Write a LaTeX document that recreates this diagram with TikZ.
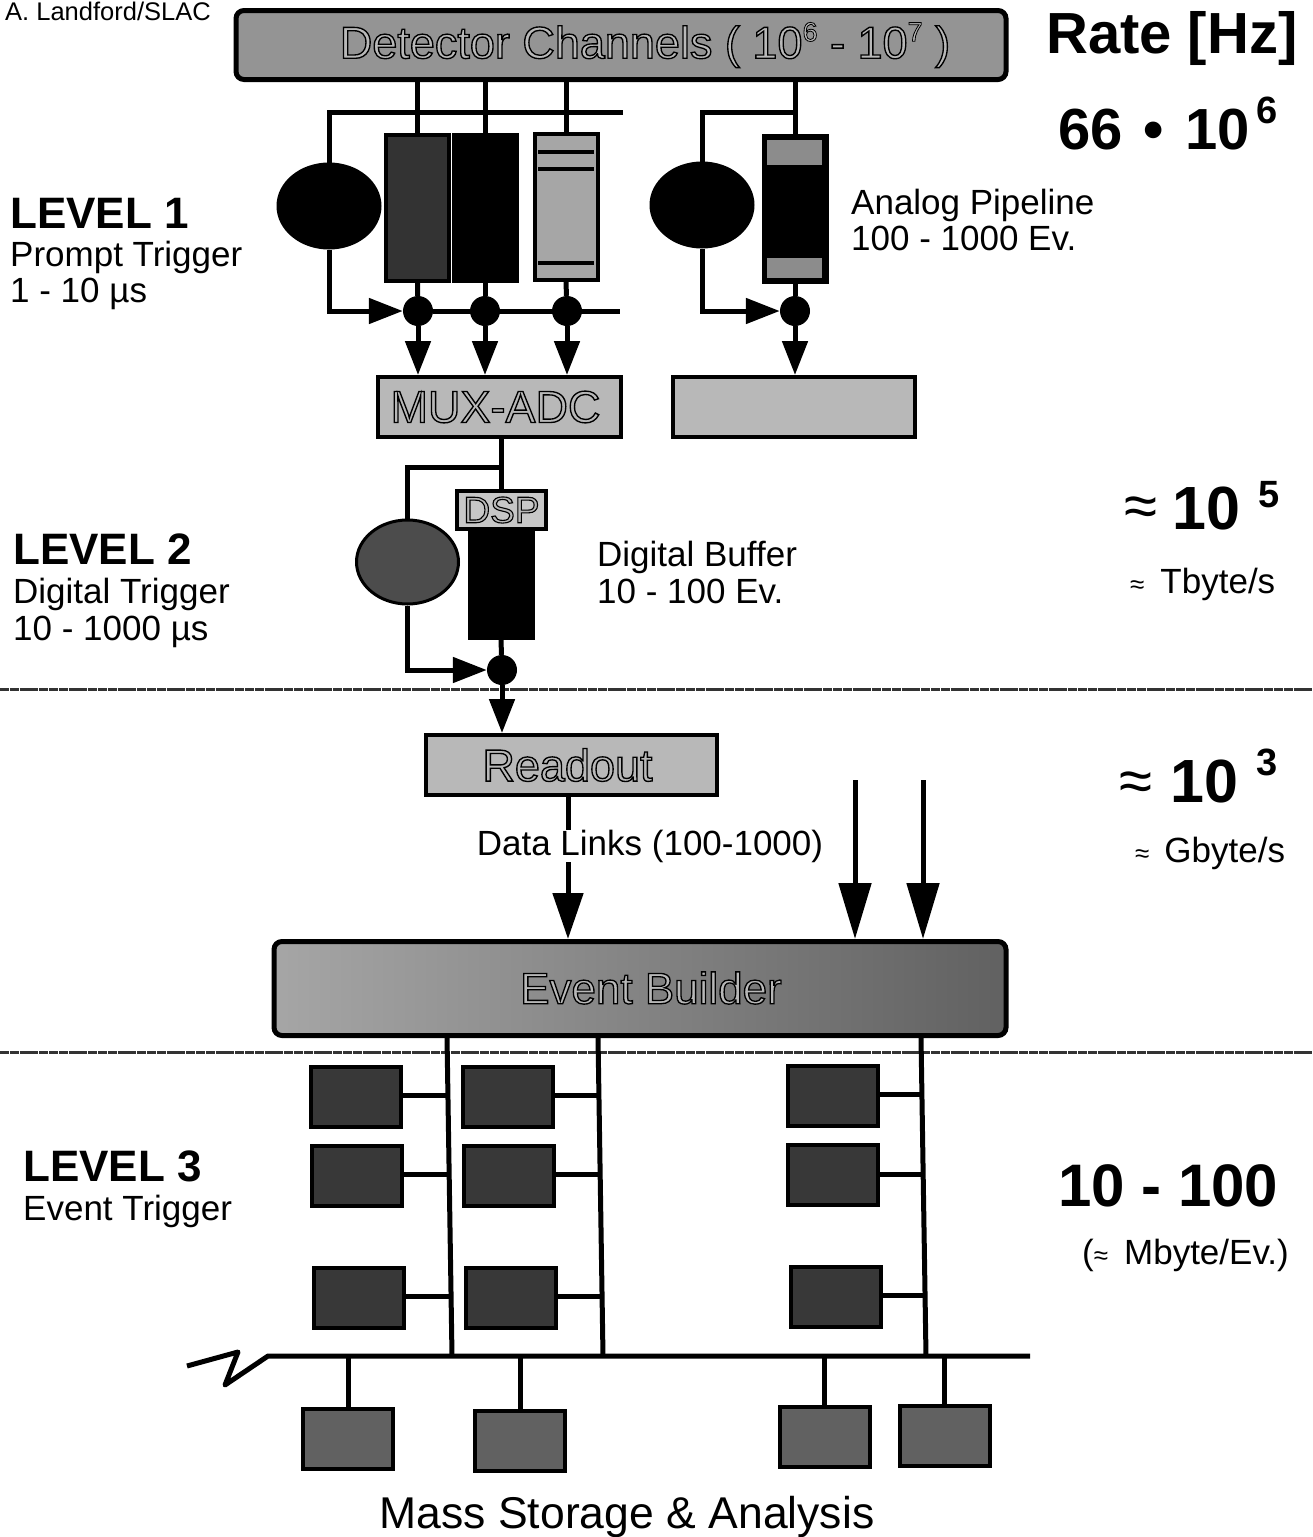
\documentclass[tikz,border=0pt]{standalone}
\usepackage{fontspec}
\setmainfont{Liberation Sans}
\newfontface\hollowfont[FakeBold=3]{Liberation Sans}
\usetikzlibrary{arrows.meta,shapes.geometric}
\newcommand{\hollow}[1]{\special{pdf:bcolor [0.72] [0]}\hollowfont #1\special{pdf:ecolor}}
\newcommand{\sized}[1]{\fontsize{#1}{#1}\selectfont}
\tikzset{
  link/.style={line width=5pt},
  tiplink/.style={link, -{Triangle[width=25pt,length=34pt]}},
  bigtip/.style={link, -{Triangle[width=32pt,length=56pt]}},
  roundbox/.style={draw, line width=5pt, rounded corners=8pt, inner sep=0pt},
  greybox/.style={draw, line width=4pt, fill=black!28, inner sep=0pt, minimum height=60pt},
  pipebox/.style={draw, line width=4pt, fill=black, inner sep=0pt, minimum width=63pt},
  cpubox/.style={draw, line width=4pt, fill=black!78, inner sep=0pt, minimum width=90pt, minimum height=60pt},
  storebox/.style={draw, line width=4pt, fill=black!62, inner sep=0pt, minimum width=90pt, minimum height=60pt},
  trigger/.style={ellipse, draw, line width=3pt, fill=black, minimum width=102pt, minimum height=84pt, inner sep=0pt},
  hub/.style={circle, fill=black, minimum size=30pt, inner sep=0pt},
  cut/.style={line width=3pt, black!80, dash pattern=on 9pt off 0.8pt},
  plain/.style={anchor=west, inner sep=0pt, yshift=-3pt, font=\sized{35}},
  level/.style={anchor=west, inner sep=0pt, font=\sized{44}\bfseries},
  rate/.style={anchor=west, inner sep=0pt, font=\sized{58}\bfseries},
  number/.style={anchor=west, inner sep=0pt, font=\sized{61}\bfseries},
  power/.style={anchor=west, inner sep=0pt, font=\sized{38}\bfseries},
  approx/.style={anchor=west, inner sep=0pt, font=\sized{60}},
}
\begin{document}
\begin{tikzpicture}[x=1pt,y=-1pt]
\useasboundingbox (0,0) rectangle (1313,1537);
% top of the chain
\node[inner sep=0pt, anchor=west, font=\sized{25.5}] (credit) at (5,11) {A. Landford/SLAC};
\node[roundbox, fill=black!42, minimum width=770pt, minimum height=69pt] (det) at (621,45)
{\sized{45}\hspace*{48pt}\hollow{Detector Channels ( 10\raisebox{.38em}{\sized{27}\hollowfont 6} - 10\raisebox{.38em}{\sized{27}\hollowfont 7} )}};
\node[rate] (ratehead) at (1046,39) {Rate [Hz]};
\node[rate] (rateone) at (1058,130) {66 \kern5pt•\kern5pt\ 10};
\node[power] (rateonep) at (1256,110) {6};
% level 1
\node[level] (levelone) at (10,213) {LEVEL 1};
\node[plain] (prompt) at (10,254) {Prompt Trigger};
\node[plain] (prompttime) at (10,291) {1 - 10 µs};
\node[trigger] (trigA) at (329,206) {};
\node[trigger] (trigB) at (702,205) {};
\node[pipebox, minimum height=146pt, fill=black!80] (pipeA) at (417.5,208) {};
\node[pipebox, minimum height=146pt] (pipeB) at (485,208) {};
\node[pipebox, minimum height=146pt, fill=black!35] (pipeC) at (566,207) {};
\node[pipebox, minimum height=146pt] (pipeD) at (795,209) {};
\fill[black!45] (767,140) rectangle (822,165);
\fill[black!45] (767,258) rectangle (822,278);
\fill (538,150) rectangle (594,154);
\fill (538,167) rectangle (594,171);
\fill (538,261) rectangle (594,265);
\node[hub] (hubA) at (418,311) {};
\node[hub] (hubB) at (485,311) {};
\node[hub] (hubC) at (567,311) {};
\node[hub] (hubD) at (795,311) {};
\node[greybox, minimum width=243pt] (mux) at (499.5,407) {\sized{45}\hspace*{-8pt}\hollow{MUX-ADC}};
\node[greybox, minimum width=242pt] (blank) at (794,407) {};
\node[plain] (analog) at (851,202) {Analog Pipeline};
\node[plain] (analogev) at (851,235) {100 - 1000 Ev.};
\coordinate (upA) at (623,112);
\coordinate (lowA) at (620,311);
\draw[link] (trigA.north) |- (upA);
\draw[link] (pipeA.north |- det.south) -- (pipeA.north);
\draw[link] (pipeB.north |- det.south) -- (pipeB.north);
\draw[link] (pipeC.north |- det.south) -- (pipeC.north);
\draw[link] (pipeD.north |- det.south) -- (pipeD.north);
\draw[link] (trigB.north) |- (pipeD.north |- upA);
\draw[link] (pipeA.south) -- (hubA);
\draw[link] (pipeB.south) -- (hubB);
\draw[link] (pipeC.south) -- (hubC);
\draw[link] (pipeD.south) -- (hubD);
\draw[tiplink] (trigA.south) |- (hubA);
\draw[tiplink] (trigB.south) |- (hubD);
\draw[link] (hubA) -- (lowA);
\draw[tiplink] (hubA) -- (hubA |- mux.north);
\draw[tiplink] (hubB) -- (hubB |- mux.north);
\draw[tiplink] (hubC) -- (hubC |- mux.north);
\draw[tiplink] (hubD) -- (hubD |- blank.north);
% level 2
\node[level] (leveltwo) at (13,549) {LEVEL 2};
\node[plain] (digital) at (13,591) {Digital Trigger};
\node[plain] (digitaltime) at (13,629) {10 - 1000 µs};
\node[trigger, fill=black!70] (trigC) at (407.5,562) {};
\node[pipebox, minimum height=108pt] (pipeE) at (501,584) {};
\node[draw, line width=4pt, fill=black!22, inner sep=0pt, minimum width=89pt, minimum height=38pt] (dsp) at (501.5,510) {\sized{37}\hollow{DSP}};
\node[hub] (hubE) at (502,670) {};
\node[plain] (buffer) at (597,554) {Digital Buffer};
\node[plain] (bufferev) at (597,588) {10 - 100 Ev.};
\node[approx] (aprxtwo) at (1124,512) {≈};
\node[number] (ratetwo) at (1172,508) {10};
\node[power] (ratetwop) at (1258,495) {5};
\node[plain] (tbyte) at (1130,581) {\sized{26}≈\kern16pt\sized{35}Tbyte/s};
\draw[link] (mux.south -| dsp.north) -- (dsp.north);
\draw[link] (trigC.north) |- (dsp.north |- 0,467);
\draw[link] (pipeE.south) -- (hubE);
\draw[tiplink] (trigC.south) |- (hubE);
\draw[cut] (0,689) coordinate (cutA) -- (1313,689) coordinate (cutB);
% readout and event builder
\node[greybox, minimum width=291pt] (readout) at (571,765) {\sized{45}\hspace*{-7pt}\hollow{Readout}};
\node[roundbox, left color=black!35, right color=black!62, minimum width=732pt, minimum height=94pt] (builder) at (640,988.5) {};
\node[inner sep=0pt, font=\sized{44}] (buildertext) at (651,988) {\hollow{Event Builder}};
\coordinate (freeA) at (855,780);
\coordinate (freeB) at (923,780);
\draw[tiplink] (hubE) -- (hubE |- readout.north);
\draw[link, -{Triangle[width=30pt,length=46pt]}] (568,795) coordinate (dataA) -- (dataA |- builder.north);
\node[inner sep=0pt, fill=white, font=\sized{35}] (datalinks) at (650,846) {Data Links (100-1000)};
\draw[bigtip] (freeA) -- (freeA |- builder.north);
\draw[bigtip] (freeB) -- (freeB |- builder.north);
\node[approx] (aprxthree) at (1119,787) {≈};
\node[number] (ratethree) at (1170,781) {10};
\node[power] (ratethreep) at (1256,762) {3};
\node[plain] (gbyte) at (1135,850) {\sized{26}≈\kern15pt\sized{35}Gbyte/s};
\draw[cut] (0,1052) coordinate (cutC) -- (1313,1052) coordinate (cutD);
% level 3
\node[level] (levelthree) at (23,1166) {LEVEL 3};
\node[plain] (eventtrig) at (23,1208) {Event Trigger};
\node[number, font=\sized{60}\bfseries] (ratefour) at (1058,1186) {10 - 100};
\node[plain] (mbyte) at (1082,1252) {(\sized{26}≈\kern16pt\sized{35}Mbyte/Ev.)};
\node[cpubox] (cpuA) at (356,1097) {};
\node[cpubox] (cpuB) at (357,1176) {};
\node[cpubox] (cpuC) at (359,1298) {};
\node[cpubox] (cpuD) at (507.5,1097) {};
\node[cpubox] (cpuE) at (509,1176) {};
\node[cpubox] (cpuF) at (510.5,1298) {};
\node[cpubox] (cpuG) at (832.5,1095.5) {};
\node[cpubox] (cpuH) at (833,1175) {};
\node[cpubox] (cpuI) at (835.5,1296.5) {};
\coordinate (wireA) at (447,1036);
\coordinate (wireB) at (598,1036);
\coordinate (wireC) at (921,1036);
\coordinate (busL) at (268,1356);
\coordinate (busR) at (1030,1356);
\draw[link] (wireA) -- (452,1356);
\draw[link] (wireB) -- (603,1356);
\draw[link] (wireC) -- (926,1356);
\draw[link] ([yshift=2pt]cpuA.east) -- (448,1095);
\draw[link] ([yshift=2pt]cpuB.east) -- (449,1174);
\draw[link] ([yshift=2pt]cpuC.east) -- (450,1296);
\draw[link] ([yshift=2pt]cpuD.east) -- (599,1095);
\draw[link] ([yshift=2pt]cpuE.east) -- (600,1174);
\draw[link] ([yshift=2pt]cpuF.east) -- (601,1296);
\draw[link] ([yshift=1.5pt]cpuG.east) -- (922,1094);
\draw[link] ([yshift=1pt]cpuH.east) -- (923,1174);
\draw[link] ([yshift=1.5pt]cpuI.east) -- (924,1295);
\draw[link, line join=round] (187,1366) -- (238,1352) -- (225,1385) -- (busL) -- (busR);
% storage
\node[storebox] (storeA) at (348,1439) {};
\node[storebox] (storeB) at (520,1441) {};
\node[storebox] (storeC) at (824.5,1437) {};
\node[storebox] (storeD) at (944.5,1436) {};
\draw[link] (storeA.north |- busL) -- (storeA.north);
\draw[link] (storeB.north |- busL) -- (storeB.north);
\draw[link] (storeC.north |- busL) -- (storeC.north);
\draw[link] (storeD.north |- busL) -- (storeD.north);
\node[inner sep=0pt, font=\sized{44.5}] (mass) at (627,1517) {Mass Storage \& Analysis};
\end{tikzpicture}
\end{document}
